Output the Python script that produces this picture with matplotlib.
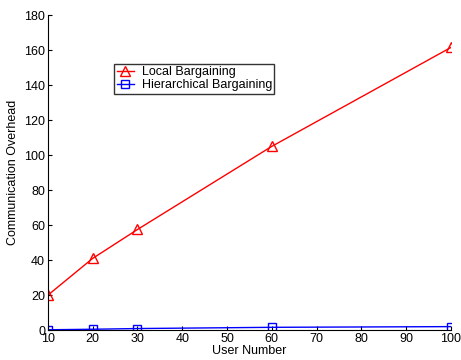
import matplotlib
matplotlib.use("Agg")
import matplotlib.pyplot as plt

plt.rcParams['font.family'] = ['Liberation Sans', 'DejaVu Sans']

users = [10, 20, 30, 60, 100]
local_bargaining = [20, 41, 57.5, 105, 161.5]
hier_bargaining = [0.2, 0.5, 0.9, 1.6, 2.0]

fig = plt.figure(figsize=(4.61, 3.6), dpi=100)
ax = fig.add_axes([0.104, 0.083, 0.874, 0.875])

ax.plot(users, local_bargaining, color='red', marker='^', markersize=7,
        markerfacecolor='none', markeredgewidth=1.0, linewidth=1.0,
        label='Local Bargaining')
ax.plot(users, hier_bargaining, color='blue', marker='s', markersize=6,
        markerfacecolor='none', markeredgewidth=1.0, linewidth=1.0,
        label='Hierarchical Bargaining')

ax.set_xlim(10, 100)
ax.set_ylim(0, 180)
ax.set_xticks(range(10, 101, 10))
ax.set_yticks(range(0, 181, 20))
ax.tick_params(direction='in', length=3, labelsize=9, pad=2)
ax.spines['top'].set_visible(False)
ax.spines['right'].set_visible(False)
for s in ('left', 'bottom'):
    ax.spines[s].set_linewidth(0.8)

ax.set_xlabel('User Number', fontsize=9, labelpad=0)
ax.set_ylabel('Communication Overhead', fontsize=9, labelpad=4)

leg = ax.legend(loc='upper left', bbox_to_anchor=(0.164, 0.846), fontsize=9,
                frameon=True, fancybox=False, borderpad=0.2, labelspacing=0.1,
                handlelength=1.4, handletextpad=0.6, borderaxespad=0)
leg.get_frame().set_edgecolor('black')
leg.get_frame().set_linewidth(1.0)

fig.savefig('out.png', dpi=100)
